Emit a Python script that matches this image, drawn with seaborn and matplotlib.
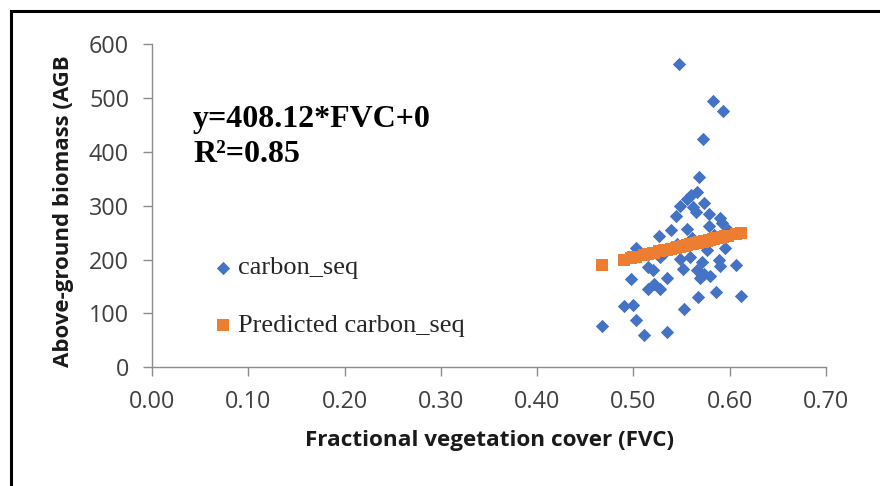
import numpy as np
import pandas as pd
import matplotlib
matplotlib.use("Agg")
import matplotlib.pyplot as plt
from matplotlib.patches import Rectangle
import seaborn as sns

# values
fvc = [0.547, 0.583, 0.593, 0.572, 0.568, 0.566, 0.560, 0.556, 0.573, 0.548,
       0.565, 0.544, 0.578, 0.590, 0.592, 0.578, 0.556, 0.539, 0.527, 0.503,
       0.595, 0.576, 0.528, 0.548, 0.559, 0.589, 0.607, 0.515, 0.552, 0.566,
       0.590, 0.520, 0.573, 0.497, 0.535, 0.569, 0.521, 0.515, 0.528, 0.567,
       0.586, 0.612, 0.490, 0.500, 0.553, 0.503, 0.467, 0.511, 0.535, 0.532,
       0.561, 0.584, 0.575, 0.545, 0.598, 0.571, 0.580, 0.562]
agb = [562, 495, 476, 423, 354, 326, 320, 312, 305, 299,
       288, 280, 285, 277, 268, 263, 257, 254, 243, 222,
       222, 217, 205, 201, 205, 199, 189, 186, 183, 180,
       188, 180, 174, 163, 165, 165, 155, 146, 146, 131,
       140, 133, 113, 115, 109, 88, 77, 60, 66, 212,
       240, 246, 233, 228, 255, 195, 170, 297]
pred_agb = [223.2, 237.9, 242.0, 233.4, 231.8, 231.0, 228.5, 226.9, 233.9, 223.6,
            230.6, 222.0, 235.9, 240.8, 241.6, 235.9, 226.9, 220.0, 215.1, 205.3,
            242.8, 235.1, 215.5, 223.6, 228.1, 240.4, 247.7, 210.2, 225.3, 231.0,
            240.8, 212.2, 233.9, 202.8, 218.3, 232.2, 212.6, 210.2, 215.5, 231.4,
            239.2, 249.8, 200.0, 204.1, 225.7, 205.3, 190.6, 208.5, 218.3, 217.1,
            229.0, 238.3, 234.7, 222.4, 244.1, 233.0, 236.7, 229.4]

x_ticks = [0.0, 0.1, 0.2, 0.3, 0.4, 0.5, 0.6, 0.7]
y_ticks = [0, 100, 200, 300, 400, 500, 600]
eq_lines = ["y=408.12*FVC+0", "R\u00b2=0.85"]

sns.set_theme(style="white")
plt.rcParams['font.family'] = ['Open Sans', 'DejaVu Sans']

df = pd.DataFrame({'FVC': fvc, 'AGB': agb, 'Pred': pred_agb})

fig = plt.figure(figsize=(8.8, 4.86), dpi=100)
ax = fig.add_axes([152 / 880, 1 - 367.3 / 486, 674 / 880, 323.3 / 486])

sns.scatterplot(data=df, x='FVC', y='AGB', marker='D', s=46, color='#4472C4',
                linewidth=0, label='carbon_seq', ax=ax, zorder=2)
sns.scatterplot(data=df, x='FVC', y='Pred', marker='s', s=74, color='#ED7D31',
                linewidth=0, label='Predicted carbon_seq', ax=ax, zorder=3)

ax.set_xlim(0, 0.7)
ax.set_ylim(0, 600)
ax.set_xticks(x_ticks)
ax.set_xticklabels([f"{t:.2f}" for t in x_ticks])
ax.set_yticks(y_ticks)
ax.set_yticklabels([str(t) for t in y_ticks])

for side in ['top', 'right']:
    ax.spines[side].set_visible(False)
for side in ['left', 'bottom']:
    ax.spines[side].set_color('#8c8c8c')
    ax.spines[side].set_linewidth(1.0)
ax.tick_params(left=True, bottom=True, direction='out', length=6.5, width=1,
               color='#8c8c8c', labelsize=16.8, labelcolor='#404040', pad=10)
ax.grid(False)

ax.set_xlabel('Fractional vegetation cover (FVC)', fontsize=16.2, fontweight='bold',
              color='#1a1a1a', va='center')
ax.xaxis.set_label_coords(0.5, -0.225)
ax.set_ylabel('Above-ground biomass (AGB', fontsize=16, fontweight='bold',
              color='#1a1a1a', va='center')
ax.yaxis.set_label_coords(-0.132, 0.483)

ax.text(0.061, 0.744, eq_lines[0], transform=ax.transAxes, fontsize=23,
        fontweight='bold', family='Liberation Serif', va='baseline', color='black')
ax.text(0.061, 0.636, eq_lines[1], transform=ax.transAxes, fontsize=23,
        fontweight='bold', family='Liberation Serif', va='baseline', color='black')

ax.legend(loc='upper left', bbox_to_anchor=(212 / 880, 1 - 256 / 486),
          bbox_transform=fig.transFigure, frameon=False,
          prop={'family': 'Liberation Serif', 'size': 19},
          handletextpad=0.2, handlelength=0.8, labelspacing=1.3,
          borderpad=0, borderaxespad=0)

# outer chart frame (cropped on right and bottom)
fig.patches.append(Rectangle((10.5 / 880, -0.1), 1.2, 1.1 - 11.5 / 486,
                             transform=fig.transFigure, fill=False,
                             edgecolor='black', linewidth=2.2))

fig.savefig('out.png', dpi=100)
